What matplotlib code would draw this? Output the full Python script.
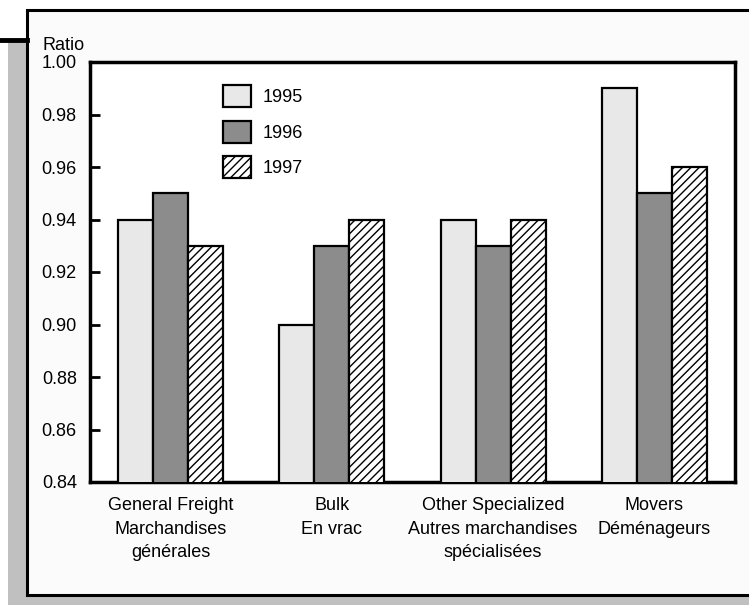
import numpy as np
import matplotlib
matplotlib.use("Agg")
import matplotlib.pyplot as plt
from matplotlib.patches import Rectangle
from matplotlib.lines import Line2D

plt.rcParams['font.family'] = ['Liberation Sans', 'DejaVu Sans']
plt.rcParams['hatch.linewidth'] = 1.0

categories = ["General Freight\nMarchandises\ngénérales",
              "Bulk\nEn vrac",
              "Other Specialized\nAutres marchandises\nspécialisées",
              "Movers\nDéménageurs"]
years = ["1995", "1996", "1997"]
r1995 = [0.94, 0.90, 0.94, 0.99]
r1996 = [0.95, 0.93, 0.93, 0.95]
r1997 = [0.93, 0.94, 0.94, 0.96]
yticks = [0.84, 0.86, 0.88, 0.90, 0.92, 0.94, 0.96, 0.98, 1.00]

W, H = 749, 605
FS = 13
fig = plt.figure(figsize=(W / 100, H / 100), dpi=100)
fig.patch.set_facecolor("white")

# pixel -> figure coords
def fx(px):
    return px / W
def fy(py):
    return 1 - py / H

# shadow + framed panel
fig.patches.append(Rectangle((fx(8), 0), 1, fy(40), transform=fig.transFigure,
                             facecolor="#c0c0c0", edgecolor="none", zorder=-3))
fig.patches.append(Rectangle((fx(27), fy(595)), 1, fy(10) - fy(595), transform=fig.transFigure,
                             facecolor="#fbfbfb", edgecolor="black", linewidth=2.2, zorder=-2))
fig.lines.append(Line2D([0, fx(27)], [fy(40), fy(40)], transform=fig.transFigure,
                        color="black", linewidth=3.5, zorder=-1))

ax = fig.add_axes([fx(90), fy(482), fx(735) - fx(90), fy(62) - fy(482)])
ax.set_zorder(5)
ax.set_facecolor("white")

x = np.arange(len(categories))
w = 0.217
kw = dict(edgecolor="black", linewidth=1.6, zorder=3)
ax.bar(x - w, r1995, w, color="#e8e8e8", label=years[0], **kw)
ax.bar(x, r1996, w, color="#8c8c8c", label=years[1], **kw)
ax.bar(x + w, r1997, w, color="white", hatch="////", label=years[2], **kw)

ax.set_xlim(-0.5, 3.5)
ax.set_ylim(0.84, 1.00)
ax.set_yticks(yticks)
ax.set_yticklabels(["%.2f" % v for v in yticks], fontsize=FS)
ax.set_xticks(x)
ax.set_xticklabels(categories, fontsize=FS, linespacing=1.5)
ax.tick_params(axis="y", direction="in", length=7, width=2, pad=9.5)
ax.tick_params(axis="x", length=0, pad=11)
for s in ax.spines.values():
    s.set_linewidth(2.5)

fig.text(fx(42), fy(46), "Ratio", fontsize=FS, va="center", ha="left", zorder=6)

ax.legend(loc="upper left", bbox_to_anchor=(0.181, 0.984), frameon=False, fontsize=FS,
          handlelength=1.55, handleheight=1.5, labelspacing=0.75, handletextpad=0.63)

fig.savefig("out.png", dpi=100, facecolor="white")
